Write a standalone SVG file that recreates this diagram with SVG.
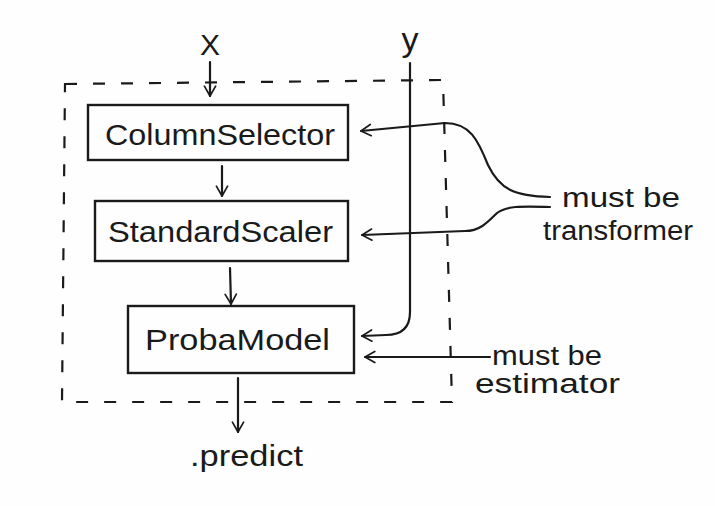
<svg xmlns="http://www.w3.org/2000/svg" width="715" height="506" viewBox="0 0 715 506">
<defs>
<style>
.ln{fill:none;stroke:#1a1a1a;stroke-width:2.2;stroke-linecap:round;stroke-linejoin:round}
.box{fill:none;stroke:#1a1a1a;stroke-width:2.4}
.dash{fill:none;stroke:#1a1a1a;stroke-width:2.2;stroke-dasharray:12 16}
.t{font-family:"Liberation Sans",Arial,sans-serif;font-size:30px;fill:#1a1a1a}
.s{font-family:"Liberation Sans",Arial,sans-serif;font-size:27px;fill:#1a1a1a}
</style>
<marker id="ah" viewBox="0 0 20 20" refX="18" refY="10" markerWidth="14" markerHeight="14" markerUnits="userSpaceOnUse" orient="auto">
<path d="M4,2 L18,10 L4,18" fill="none" stroke="#1a1a1a" stroke-width="2.4" stroke-linecap="round" stroke-linejoin="round"/>
</marker>
</defs>
<rect width="715" height="506" fill="#fdfefd"/>
<g id="pipeline">
<path class="dash" d="M65,84 L443,80 L452,402 L62,402 Z"/>
</g>
<g id="X"><text class="t" x="210" y="55" text-anchor="middle">X</text></g>
<g id="Y"><text class="t" x="410" y="51" text-anchor="middle" style="font-size:34px">y</text></g>
<g id="ColumnSelector">
<rect class="box" x="88" y="105" width="260" height="55"/>
<text class="t" x="105" y="145" textLength="230" lengthAdjust="spacingAndGlyphs">ColumnSelector</text>
</g>
<g id="StandardScaler">
<rect class="box" x="95" y="201" width="253" height="60"/>
<text class="t" x="108" y="242" textLength="225" lengthAdjust="spacingAndGlyphs">StandardScaler</text>
</g>
<g id="ProbaModel">
<rect class="box" x="128" y="306" width="226" height="67"/>
<text class="t" x="145" y="350" textLength="185" lengthAdjust="spacingAndGlyphs">ProbaModel</text>
</g>
<g id="predict"><text class="t" x="190" y="466" textLength="113" lengthAdjust="spacingAndGlyphs">.predict</text></g>
<g id="transformerNote">
<text class="s" x="562" y="207" textLength="118" lengthAdjust="spacingAndGlyphs">must be</text>
<text class="s" x="543" y="240" textLength="150" lengthAdjust="spacingAndGlyphs">transformer</text>
</g>
<g id="estimatorNote">
<text class="s" x="492" y="365" textLength="110" lengthAdjust="spacingAndGlyphs">must be</text>
<text class="s" x="475" y="393" textLength="145" lengthAdjust="spacingAndGlyphs">estimator</text>
</g>
<g id="connectors">
<path class="ln" marker-end="url(#ah)" d="M210,62 L210,96"/>
<path class="ln" marker-end="url(#ah)" d="M222,166 L222,196"/>
<path class="ln" marker-end="url(#ah)" d="M230,268 L231,304"/>
<path class="ln" marker-end="url(#ah)" d="M238,378 L238,432"/>
<path class="ln" marker-end="url(#ah)" d="M410,63 L410,312 Q410,335 386,335 L362,336"/>
<path class="ln" marker-end="url(#ah)" d="M550,197 C515,196 500,190 488,165 C478,140 470,123 445,123 L361,131"/>
<path class="ln" marker-end="url(#ah)" d="M550,207 C520,206 506,206 497,213 C488,222 480,231 465,231 L362,235"/>
<path class="ln" marker-end="url(#ah)" d="M490,357 L365,357"/>
</g>
</svg>
